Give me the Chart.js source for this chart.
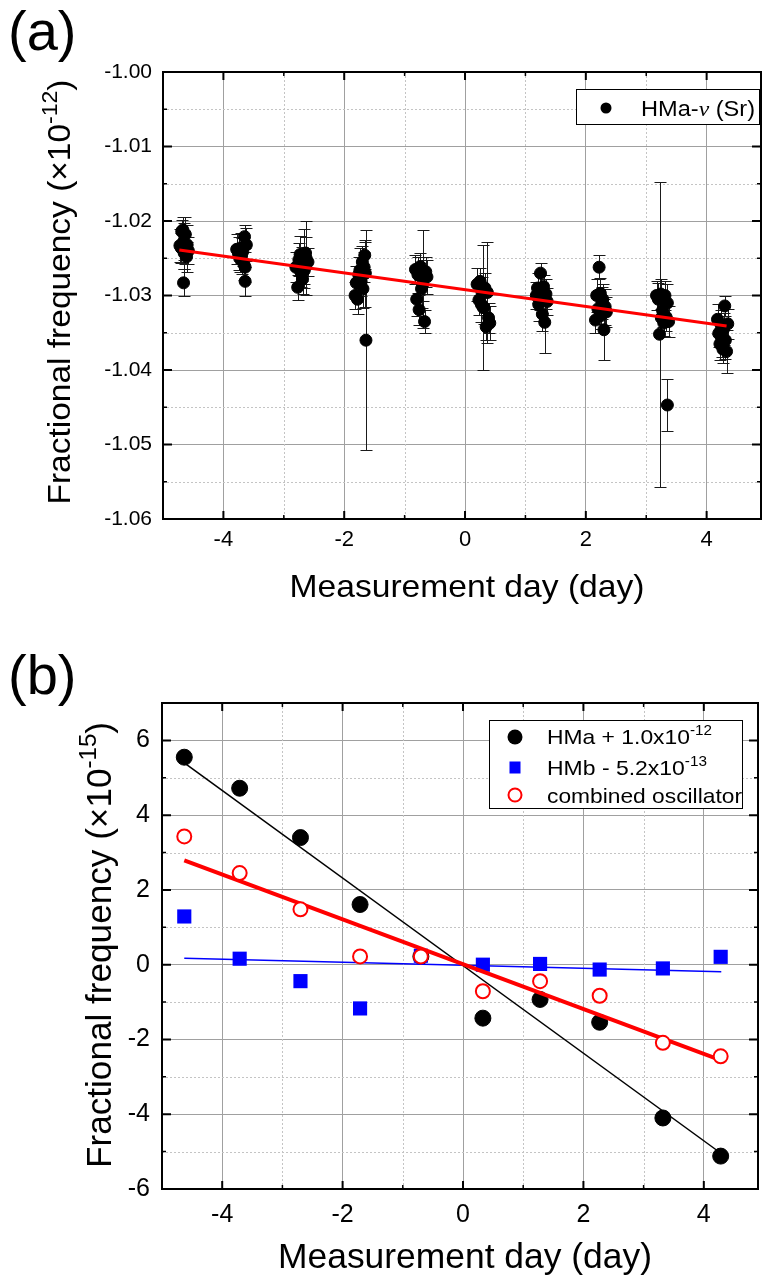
<!DOCTYPE html>
<html>
<head>
<meta charset="utf-8">
<title>Fractional frequency vs measurement day</title>
<script src="https://cdn.jsdelivr.net/npm/chart.js@4.4.0/dist/chart.umd.min.js"></script>
<style>
  html, body { margin: 0; padding: 0; background: #fff; }
  canvas { display: block; }
</style>
</head>
<body>
<canvas id="chartA" width="768" height="640"></canvas>
<canvas id="chartB" width="768" height="640"></canvas>
<script>
// ---- panel (a): HMa - nu(Sr), in units of 1e-12, one cluster per measurement day
const dayA = [
  -4.72, -4.70, -4.69, -4.67, -4.66, -4.65, -4.64, -4.63, -4.61, -4.60, -4.58, -4.66,
  -3.78, -3.75, -3.73, -3.71, -3.70, -3.68, -3.66, -3.65, -3.64, -3.62, -3.64,
  -2.80, -2.77, -2.75, -2.73, -2.71, -2.70, -2.69, -2.67, -2.66, -2.64, -2.63, -2.60,
  -1.82, -1.80, -1.78, -1.76, -1.74, -1.72, -1.70, -1.69, -1.67, -1.66, -1.65, -1.64,
  -0.82, -0.80, -0.78, -0.76, -0.74, -0.72, -0.70, -0.69, -0.67, -0.65, -0.63,
  0.20, 0.23, 0.25, 0.27, 0.28, 0.30, 0.31, 0.33, 0.35, 0.37, 0.39, 0.41,
  1.18, 1.20, 1.22, 1.24, 1.25, 1.27, 1.28, 1.30, 1.32, 1.34, 1.36,
  2.16, 2.18, 2.20, 2.22, 2.24, 2.25, 2.27, 2.28, 2.30, 2.32, 2.34,
  3.17, 3.20, 3.22, 3.24, 3.25, 3.27, 3.29, 3.31, 3.33, 3.35, 3.37, 3.35,
  4.18, 4.20, 4.22, 4.24, 4.25, 4.27, 4.28, 4.30, 4.31, 4.33, 4.35
];
const fracA = [
  -1.0233, -1.0236, -1.0214, -1.0212, -1.0228, -1.0243, -1.0238, -1.0218, -1.0248, -1.0232, -1.0240, -1.0283,
  -1.0238, -1.0244, -1.0250, -1.0236, -1.0247, -1.0241, -1.0258, -1.0221, -1.0262, -1.0232, -1.0281,
  -1.0262, -1.0289, -1.0252, -1.0245, -1.0270, -1.0258, -1.0278, -1.0248, -1.0266, -1.0243, -1.0250, -1.0255,
  -1.0300, -1.0283, -1.0305, -1.0272, -1.0266, -1.0281, -1.0255, -1.0291, -1.0262, -1.0246, -1.0270, -1.0360,
  -1.0265, -1.0305, -1.0272, -1.0319, -1.0261, -1.0291, -1.0285, -1.0278, -1.0335, -1.0268, -1.0275,
  -1.0285, -1.0306, -1.0281, -1.0312, -1.0295, -1.0316, -1.0316, -1.0290, -1.0342, -1.0296, -1.0330, -1.0337,
  -1.0300, -1.0290, -1.0312, -1.0295, -1.0270, -1.0303, -1.0325, -1.0288, -1.0336, -1.0298, -1.0308,
  -1.0333, -1.0300, -1.0318, -1.0262, -1.0297, -1.0327, -1.0310, -1.0305, -1.0346, -1.0315, -1.0322,
  -1.0300, -1.0305, -1.0352, -1.0298, -1.0330, -1.0320, -1.0337, -1.0300, -1.0329, -1.0310, -1.0335, -1.0447,
  -1.0332, -1.0351, -1.0365, -1.0340, -1.0358, -1.0372, -1.0345, -1.0314, -1.0360, -1.0375, -1.0338
];
const errA = [
  0.0022, 0.0020, 0.0016, 0.0018, 0.0025, 0.0022, 0.0020, 0.0024, 0.0020, 0.0026, 0.0018, 0.0018,
  0.0020, 0.0022, 0.0018, 0.0020, 0.0024, 0.0019, 0.0021, 0.0015, 0.0020, 0.0022, 0.0019,
  0.0020, 0.0017, 0.0022, 0.0025, 0.0018, 0.0023, 0.0020, 0.0037, 0.0024, 0.0021, 0.0050, 0.0019,
  0.0018, 0.0022, 0.0020, 0.0024, 0.0030, 0.0020, 0.0022, 0.0026, 0.0020, 0.0018, 0.0045, 0.0148,
  0.0020, 0.0022, 0.0024, 0.0020, 0.0018, 0.0026, 0.0022, 0.0066, 0.0016, 0.0020, 0.0023,
  0.0022, 0.0020, 0.0018, 0.0024, 0.0020, 0.0084, 0.0022, 0.0020, 0.0018, 0.0068, 0.0020, 0.0023,
  0.0018, 0.0020, 0.0022, 0.0024, 0.0014, 0.0020, 0.0022, 0.0016, 0.0041, 0.0020, 0.0018,
  0.0018, 0.0022, 0.0020, 0.0016, 0.0020, 0.0018, 0.0022, 0.0020, 0.0041, 0.0024, 0.0020,
  0.0020, 0.0022, 0.0205, 0.0020, 0.0024, 0.0022, 0.0018, 0.0020, 0.0019, 0.0026, 0.0021, 0.0035,
  0.0020, 0.0018, 0.0022, 0.0020, 0.0024, 0.0018, 0.0022, 0.0014, 0.0025, 0.0029, 0.0020
];
const fitDayA = [-4.73, 4.33];
const fitFracA = [-1.0239, -1.0341];

// ---- panel (b): offsets removed, in units of 1e-15
const dayB = [-4.63, -3.71, -2.70, -1.71, -0.70, 0.33, 1.28, 2.27, 3.32, 4.28];
const hmaB = [5.55, 4.72, 3.40, 1.61, 0.22, -1.43, -0.93, -1.54, -4.10, -5.12];
const hmbB = [1.29, 0.16, -0.44, -1.17, 0.24, 0.00, 0.02, -0.13, -0.10, 0.21];
const combB = [3.43, 2.45, 1.48, 0.22, 0.22, -0.71, -0.44, -0.83, -2.09, -2.45];
const fitDayB = [-4.63, 4.29];
const fitHmaB = [5.40, -5.05];
const fitHmbB = [0.17, -0.19];
const fitCombB = [2.79, -2.56];

const FONT = '"Liberation Sans", Arial, sans-serif';
const SERIF = '"Liberation Serif", "Times New Roman", serif';

const pts = (xs, ys) => xs.map((v, i) => ({ x: v, y: ys[i] }));
const isInt = v => Math.abs(v - Math.round(v)) < 1e-6;
const evenInt = v => isInt(v) && Math.round(v) % 2 === 0;
const oddInt = v => isInt(v) && Math.abs(Math.round(v) % 2) === 1;
const majA = v => Math.abs(Math.round(v * 1000) % 10) === 0;
const minA = v => Math.abs(Math.round(v * 1000) % 10) === 5;

// text with superscript / italic parts, stretched to a target width if given
function drawRich(ctx, parts, size, x, y, opt) {
  const fontOf = k => k === 's' ? `${Math.round(size * 0.68)}px ${FONT}`
    : k === 'i' ? `italic ${size}px ${SERIF}` : `${size}px ${FONT}`;
  ctx.save();
  ctx.translate(x, y);
  if (opt.rotate) ctx.rotate(-Math.PI / 2);
  let w = 0;
  parts.forEach(([t, k]) => { ctx.font = fontOf(k); w += ctx.measureText(t).width; });
  if (opt.width) ctx.scale(opt.width / w, 1);
  let cx = opt.center ? -w / 2 : 0;
  ctx.fillStyle = '#000';
  ctx.textBaseline = 'alphabetic';
  ctx.textAlign = 'left';
  parts.forEach(([t, k]) => {
    ctx.font = fontOf(k);
    ctx.fillText(t, cx, k === 's' ? -size * 0.42 : 0);
    cx += ctx.measureText(t).width;
  });
  ctx.restore();
}

function decorPlugin(cfg) {
  return {
    id: 'decor',
    beforeDatasetsDraw(chart) {
      const { ctx, chartArea: a, scales: { x, y } } = chart;
      ctx.save();
      ctx.strokeStyle = '#c4c4c4';
      ctx.lineWidth = 1;
      ctx.setLineDash([2, 2]);
      ctx.beginPath();
      x.ticks.forEach(t => {
        if (!cfg.xMinor(t.value)) return;
        const p = Math.round(x.getPixelForValue(t.value)) + 0.5;
        ctx.moveTo(p, a.top); ctx.lineTo(p, a.bottom);
      });
      y.ticks.forEach(t => {
        if (!cfg.yMinor(t.value)) return;
        const p = Math.round(y.getPixelForValue(t.value)) + 0.5;
        ctx.moveTo(a.left, p); ctx.lineTo(a.right, p);
      });
      ctx.stroke();
      ctx.restore();
      if (cfg.errorBars) cfg.errorBars(chart);
    },
    afterDatasetsDraw(chart) {
      const { ctx, chartArea: a, scales: { x, y } } = chart;
      ctx.save();
      ctx.strokeStyle = '#000';
      x.ticks.forEach(t => {
        const maj = cfg.xMajor(t.value), mn = cfg.xMinor(t.value);
        if (!maj && !mn) return;
        const p = x.getPixelForValue(t.value), len = maj ? 8 : 4;
        ctx.lineWidth = maj ? 2 : 1.5;
        ctx.beginPath();
        ctx.moveTo(p, a.bottom); ctx.lineTo(p, a.bottom - len);
        ctx.moveTo(p, a.top); ctx.lineTo(p, a.top + len);
        ctx.stroke();
      });
      y.ticks.forEach(t => {
        const maj = cfg.yMajor(t.value), mn = cfg.yMinor(t.value);
        if (!maj && !mn) return;
        const p = y.getPixelForValue(t.value), len = maj ? 9 : 4;
        ctx.lineWidth = maj ? 2 : 1.5;
        ctx.beginPath();
        ctx.moveTo(a.left, p); ctx.lineTo(a.left + len, p);
        ctx.moveTo(a.right, p); ctx.lineTo(a.right - len, p);
        ctx.stroke();
      });
      ctx.lineWidth = 2;
      ctx.strokeRect(a.left, a.top, a.right - a.left, a.bottom - a.top);
      ctx.restore();
    },
    afterDraw(chart) { cfg.texts(chart.ctx); }
  };
}

function baseOptions(o) {
  return {
    responsive: false,
    animation: false,
    events: [],
    layout: { padding: { left: 0, right: o.right, top: o.top, bottom: 0 } },
    plugins: { legend: { display: false }, tooltip: { enabled: false } },
    scales: {
      x: {
        type: 'linear', min: -5, max: 4.9,
        afterFit: s => { s.height = o.xHeight; },
        border: { display: false },
        grid: { drawTicks: false, lineWidth: 1, color: c => evenInt(c.tick.value) ? '#a0a0a0' : 'rgba(0,0,0,0)' },
        ticks: {
          stepSize: 1, includeBounds: false, autoSkip: false, maxRotation: 0, padding: o.xPad, color: '#000',
          font: { family: FONT, size: o.xFont },
          callback: v => evenInt(v) ? String(Math.round(v)) : ''
        }
      },
      y: {
        type: 'linear', min: o.yMin, max: o.yMax,
        afterFit: s => { s.width = o.left; },
        border: { display: false },
        grid: { drawTicks: false, lineWidth: 1, color: c => o.yMajor(c.tick.value) ? '#a0a0a0' : 'rgba(0,0,0,0)' },
        ticks: {
          stepSize: o.yStep, autoSkip: false, padding: o.yPad, color: '#000',
          font: { family: FONT, size: o.yFont },
          callback: o.yLabel
        }
      }
    }
  };
}

// ---------- chart (a)
function errorBarsA(chart) {
  const { ctx, scales: { x, y } } = chart;
  ctx.save();
  ctx.strokeStyle = '#1a1a1a';
  ctx.lineWidth = 1;
  ctx.beginPath();
  dayA.forEach((d, i) => {
    const p = Math.round(x.getPixelForValue(d)) + 0.5;
    const t = Math.round(y.getPixelForValue(fracA[i] + errA[i])) + 0.5;
    const b = Math.round(y.getPixelForValue(fracA[i] - errA[i])) + 0.5;
    ctx.moveTo(p, t); ctx.lineTo(p, b);
    ctx.moveTo(p - 6, t); ctx.lineTo(p + 6, t);
    ctx.moveTo(p - 6, b); ctx.lineTo(p + 6, b);
  });
  ctx.stroke();
  ctx.restore();
}

function textsA(ctx) {
  drawRich(ctx, [['(a)', '']], 56, 8, 50, {});
  drawRich(ctx, [['Measurement day (day)', '']], 32, 467, 597, { center: true, width: 355 });
  drawRich(ctx, [['Fractional frequency (\u00d710', ''], ['-12', 's'], [')', '']], 32, 70, 292,
    { center: true, rotate: true, width: 425 });
  // legend
  ctx.save();
  ctx.fillStyle = '#fff';
  ctx.fillRect(576.5, 89.5, 183, 35);
  ctx.strokeStyle = '#000';
  ctx.lineWidth = 1;
  ctx.strokeRect(576.5, 89.5, 183, 35);
  ctx.fillStyle = '#000';
  ctx.beginPath();
  ctx.arc(606, 108, 5.5, 0, Math.PI * 2);
  ctx.fill();
  ctx.restore();
  drawRich(ctx, [['HMa-', ''], ['\u03bd', 'i'], [' (Sr)', '']], 22, 641, 116, { width: 114 });
}

new Chart(document.getElementById('chartA'), {
  type: 'scatter',
  data: {
    datasets: [
      {
        label: 'HMa-\u03bd (Sr)', data: pts(dayA, fracA), order: 2,
        pointRadius: 6, pointBorderWidth: 1, pointBackgroundColor: '#000', pointBorderColor: '#000'
      },
      {
        label: 'fit', type: 'line', data: pts(fitDayA, fitFracA), order: 1,
        borderColor: '#ff0000', borderWidth: 3, pointRadius: 0, fill: false
      }
    ]
  },
  options: baseOptions({
    right: 3, top: 72, xHeight: 121, left: 163, xPad: 8, xFont: 22,
    yMin: -1.06, yMax: -1.00, yStep: 0.005, yPad: 11, yFont: 21, yMajor: majA,
    yLabel: v => majA(v) ? v.toFixed(2) : ''
  }),
  plugins: [decorPlugin({ xMajor: evenInt, xMinor: oddInt, yMajor: majA, yMinor: minA, errorBars: errorBarsA, texts: textsA })]
});

// ---------- chart (b)
function textsB(ctx) {
  drawRich(ctx, [['(b)', '']], 56, 8, 54, {});
  drawRich(ctx, [['Measurement day (day)', '']], 35, 465, 628, { center: true, width: 374 });
  drawRich(ctx, [['Fractional frequency (\u00d710', ''], ['-15', 's'], [')', '']], 35, 111, 305,
    { center: true, rotate: true, width: 446 });
  // legend
  ctx.save();
  ctx.fillStyle = '#fff';
  ctx.fillRect(489.5, 80.5, 253, 88);
  ctx.strokeStyle = '#000';
  ctx.lineWidth = 1;
  ctx.strokeRect(489.5, 80.5, 253, 88);
  ctx.fillStyle = '#000';
  ctx.beginPath();
  ctx.arc(515, 97, 7.5, 0, Math.PI * 2);
  ctx.fill();
  ctx.fillStyle = '#0000ff';
  ctx.fillRect(509.5, 121.5, 11, 12);
  ctx.strokeStyle = '#ff0000';
  ctx.lineWidth = 2;
  ctx.beginPath();
  ctx.arc(515, 155, 6.5, 0, Math.PI * 2);
  ctx.stroke();
  ctx.restore();
  drawRich(ctx, [['HMa + 1.0x10', ''], ['-12', 's']], 21, 547, 104, { width: 165 });
  drawRich(ctx, [['HMb - 5.2x10', ''], ['-13', 's']], 21, 547, 135, { width: 160 });
  drawRich(ctx, [['combined oscillator', '']], 21, 547, 163, { width: 195 });
}

new Chart(document.getElementById('chartB'), {
  type: 'scatter',
  data: {
    datasets: [
      {
        label: 'HMa + 1.0x10^-12', data: pts(dayB, hmaB), order: 5,
        pointRadius: 8, pointBorderWidth: 1, pointBackgroundColor: '#000', pointBorderColor: '#000'
      },
      {
        label: 'HMa fit', type: 'line', data: pts(fitDayB, fitHmaB), order: 4,
        borderColor: '#000', borderWidth: 1.5, pointRadius: 0, fill: false
      },
      {
        label: 'HMb - 5.2x10^-13', data: pts(dayB, hmbB), order: 3, pointStyle: 'rect',
        pointRadius: 10, pointBorderWidth: 0, pointBackgroundColor: '#0000ff', pointBorderColor: '#0000ff'
      },
      {
        label: 'HMb fit', type: 'line', data: pts(fitDayB, fitHmbB), order: 2,
        borderColor: '#0000ff', borderWidth: 1.5, pointRadius: 0, fill: false
      },
      {
        label: 'combined fit', type: 'line', data: pts(fitDayB, fitCombB), order: 1,
        borderColor: '#ff0000', borderWidth: 4, pointRadius: 0, fill: false
      },
      {
        label: 'combined oscillator', data: pts(dayB, combB), order: 0,
        pointRadius: 7, pointBorderWidth: 2, pointBackgroundColor: '#fff', pointBorderColor: '#ff0000'
      }
    ]
  },
  options: baseOptions({
    right: 4, top: 63, xHeight: 91, left: 162, xPad: 11, xFont: 25,
    yMin: -6, yMax: 7, yStep: 1, yPad: 12, yFont: 25, yMajor: evenInt,
    yLabel: v => evenInt(v) ? String(Math.round(v)) : ''
  }),
  plugins: [decorPlugin({ xMajor: evenInt, xMinor: oddInt, yMajor: evenInt, yMinor: oddInt, texts: textsB })]
});
</script>
</body>
</html>
